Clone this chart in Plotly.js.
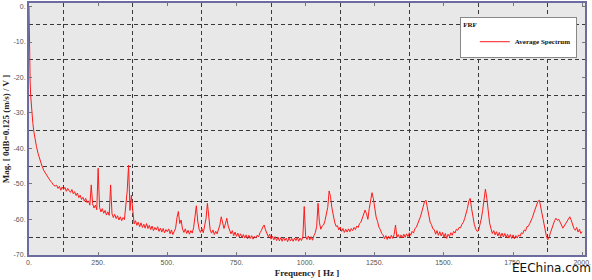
<!DOCTYPE html>
<html>
<head>
<meta charset="utf-8">
<script src="https://cdn.plot.ly/plotly-3.0.1.min.js"></script>
<style>html,body{margin:0;padding:0;background:#fff;}#chart{width:592px;height:280px;}</style>
</head>
<body>
<div id="chart"></div>
<script>
var freqHz = [0,1,2,3,4,6,8,11,14,18,22,27,33,40,47,54,61,68,75,82,89,95,
100,105,110,115,120,125,130,135,140,145,150,155,160,165,170,175,180,185,190,195,
200,205,210,215,220,225,230,235,240,245,250,255,260,265,270,275,280,285,290,295,
300,305,310,315,320,325,330,335,340,345,350,355,360,365,370,375,380,385,390,395,
400,405,410,415,420,425,430,435,440,445,450,455,460,465,470,475,480,485,490,495,
500,505,510,515,520,525,530,535,540,545,550,555,560,565,570,575,580,585,590,595,
600,605,610,615,620,625,630,635,640,645,650,655,660,665,670,675,680,685,690,695,
700,705,710,715,720,725,730,735,740,745,750,755,760,765,770,775,780,785,790,795,
800,805,810,815,820,825,830,835,840,845,850,855,860,865,870,875,880,885,890,895,
900,905,910,915,920,925,930,935,940,945,950,955,960,965,970,975,980,985,990,995,
1000,1005,1010,1015,1020,1025,1030,1035,1040,1045,1050,1055,1060,1065,1070,1075,1080,1085,1090,1095,
1100,1105,1110,1115,1120,1125,1130,1135,1140,1145,1150,1155,1160,1165,1170,1175,1180,1185,1190,1195,
1200,1205,1210,1215,1220,1225,1230,1235,1240,1245,1250,1255,1260,1265,1270,1275,1280,1285,1290,1295,
1300,1305,1310,1315,1320,1325,1330,1335,1340,1345,1350,1355,1360,1365,1370,1375,1380,1385,1390,1395,
1400,1405,1410,1415,1420,1425,1430,1435,1440,1445,1450,1455,1460,1465,1470,1475,1480,1485,1490,1495,
1500,1505,1510,1515,1520,1525,1530,1535,1540,1545,1550,1555,1560,1565,1570,1575,1580,1585,1590,1595,
1600,1605,1610,1615,1620,1625,1630,1635,1640,1645,1650,1655,1660,1665,1670,1675,1680,1685,1690,1695,
1700,1705,1710,1715,1720,1725,1730,1735,1740,1745,1750,1755,1760,1765,1770,1775,1780,1785,1790,1795,
1800,1805,1810,1815,1820,1825,1830,1835,1840,1845,1850,1855,1860,1865,1870,1875,1880,1885,1890,1895,
1900,1905,1910,1915,1920,1925,1930,1935,1940,1945,1950,1955,1960,1965,1970,1975,1980,1985,1990,1995,
2000];
var magDb = [0,-8,-14,-18,-21,-25,-27.5,-30.5,-33,-35.5,-37.5,-39.5,-41.5,-43.5,-45,-46.3,-47.2,-48.3,-48.9,-49.6,-50.4,-50.6,
-50.4,-51.3,-50.7,-51.8,-50.9,-51.6,-51.0,-52.1,-51.3,-51.9,-52.4,-51.6,-52.8,-52.2,-53.3,-52.6,-53.9,-53.2,-54.4,-53.8,
-54.9,-54.1,-55.3,-54.8,-56.0,-50.3,-55.6,-56.8,-56.0,-57.3,-45.6,-56.6,-57.9,-57.0,-58.3,-57.5,-58.8,-57.9,-58.9,-50.3,
-58.4,-59.5,-58.6,-59.8,-59.0,-60.2,-59.3,-60.4,-59.5,-60.1,-56.5,-52.0,-44.7,-57.5,-53.2,-58.0,-61.3,-60.4,-61.7,-60.8,
-62.1,-61.0,-62.3,-61.4,-62.5,-61.2,-62.6,-61.7,-62.9,-61.9,-63.2,-62.3,-63.0,-62.1,-63.4,-62.5,-63.6,-62.6,-63.8,-62.9,
-63.5,-62.7,-64.1,-63.0,-64.3,-63.4,-62.5,-59.5,-57.8,-61.2,-60.2,-62.8,-63.7,-62.7,-64.0,-63.1,-64.2,-63.2,-63.9,-62.4,
-59.5,-56.2,-60.5,-62.8,-63.7,-62.6,-63.8,-62.2,-59.8,-55.5,-60.3,-63.0,-63.9,-63.0,-64.3,-63.4,-64.1,-62.9,-61.6,-59.3,
-61.4,-62.6,-61.3,-59.7,-61.9,-63.3,-64.1,-63.2,-64.6,-63.6,-64.8,-63.9,-65.0,-64.1,-65.2,-64.3,-65.3,-64.4,-65.5,-64.5,
-65.4,-64.6,-65.6,-64.8,-65.3,-64.5,-65.0,-63.8,-63.2,-62.2,-61.6,-63.0,-64.3,-64.9,-64.2,-65.6,-64.8,-65.8,-64.9,-66.0,
-65.0,-66.1,-65.2,-66.2,-65.1,-66.0,-65.3,-66.3,-65.2,-66.1,-65.4,-66.2,-65.3,-66.0,-65.1,-66.2,-65.3,-66.0,-65.0,-56.4,
-64.8,-65.7,-64.7,-65.8,-64.9,-65.9,-64.6,-63.8,-62.0,-55.5,-61.0,-62.8,-61.9,-61.6,-60.4,-58.9,-56.6,-52.0,-53.6,-56.8,
-59.2,-60.8,-62.0,-61.8,-63.0,-62.2,-63.4,-62.6,-63.7,-62.8,-63.6,-62.7,-63.5,-62.6,-63.2,-62.3,-62.9,-61.9,-62.3,-61.2,
-60.8,-59.8,-58.8,-57.4,-58.4,-60.0,-57.0,-54.3,-52.5,-54.2,-57.2,-59.4,-60.6,-62.2,-62.9,-64.0,-64.4,-65.5,-64.6,-65.7,
-64.8,-65.5,-64.5,-65.4,-64.3,-61.6,-65.1,-64.3,-65.3,-64.4,-65.2,-64.2,-65.1,-64.1,-64.9,-63.8,-64.5,-63.4,-63.9,-62.6,
-62.3,-61.4,-60.3,-59.3,-57.9,-56.4,-55.0,-54.6,-56.9,-59.0,-60.8,-61.5,-62.7,-62.9,-64.2,-63.2,-64.5,-63.5,-64.7,-63.7,
-65.1,-64.0,-65.4,-64.2,-64.9,-63.8,-64.5,-63.4,-63.9,-62.8,-63.1,-62.3,-62.4,-61.4,-60.9,-59.8,-58.6,-56.9,-54.9,-54.1,
-57.0,-59.8,-61.5,-62.7,-63.4,-63.2,-61.9,-59.9,-57.5,-54.6,-51.5,-54.0,-58.2,-61.0,-62.6,-64.0,-63.2,-64.4,-63.5,-64.7,
-63.7,-64.9,-63.9,-65.0,-64.0,-65.1,-64.2,-65.3,-64.3,-65.4,-64.4,-65.5,-64.6,-65.3,-64.4,-64.8,-63.8,-64.1,-63.0,-63.3,
-62.1,-62.0,-61.2,-60.4,-59.5,-58.2,-56.9,-55.6,-54.9,-54.6,-56.6,-59.0,-61.4,-63.2,-64.6,-65.8,-65.1,-63.8,-62.5,-61.0,
-60.4,-59.7,-60.3,-60.0,-61.1,-61.6,-62.5,-61.9,-61.0,-60.4,-59.8,-59.3,-60.2,-61.7,-62.6,-63.1,-62.3,-63.6,-62.8,-64.0,
-63.5];

var xTickVals = [0,250,500,750,1000,1250,1500,1750,2000];
var xTickText = ['0.','250.','500.','750.','1000.','1250.','1500.','1750.','2000.'];
var yTickVals = [0,-10,-20,-30,-40,-50,-60,-70];
var yTickText = ['0.','-10.','-20.','-30.','-40.','-50.','-60.','-70.'];

var axisColor = '#6c6ca0';
var tickFont = {family:'Liberation Sans, Arial, sans-serif', size:7, color:'#555'};
var titleFont = {family:'Liberation Serif, Times New Roman, serif', size:9, color:'#222', weight:'bold'};

var trace = {
  x: freqHz, y: magDb, type:'scatter', mode:'lines', name:'Average Spectrum',
  line:{color:'#ff1a1a', width:1}
};

var layout = {
  width:592, height:280,
  margin:{l:29, r:7, t:3, b:25, pad:0},
  paper_bgcolor:'#ffffff', plot_bgcolor:'#e8e8e8',
  showlegend:true,
  legend:{
    x:0.986, xanchor:'right', y:0.944, yanchor:'top',
    bgcolor:'#ffffff', bordercolor:'#888', borderwidth:1,
    font:{family:'Liberation Serif, Times New Roman, serif', size:7, color:'#111', weight:'bold'},
    title:{text:'FRF', side:'top left', font:{family:'Liberation Serif, Times New Roman, serif', size:7, color:'#111', weight:'bold'}},
    itemwidth:30, tracegroupgap:0
  },
  xaxis:{
    range:[0,2010], showgrid:false, zeroline:false,
    tickvals:xTickVals, ticktext:xTickText, tickfont:tickFont,
    ticks:'inside', ticklen:3, tickcolor:'#777', tickwidth:1,
    showline:true, linecolor:axisColor, linewidth:2, mirror:'ticks',
    minor:{tick0:125, dtick:250, showgrid:true, gridcolor:'#3a3a3a', gridwidth:1, griddash:'4px,3px', ticks:''},
    title:{text:'Frequency [ Hz ]', font:titleFont, standoff:4}
  },
  yaxis:{
    range:[-70.07,1.0], showgrid:false, zeroline:false,
    tickvals:yTickVals, ticktext:yTickText, tickfont:tickFont,
    ticks:'inside', ticklen:3, tickcolor:'#777', tickwidth:1,
    showline:true, linecolor:axisColor, linewidth:2, mirror:'ticks',
    minor:{tick0:-5, dtick:10, showgrid:true, gridcolor:'#3a3a3a', gridwidth:1, griddash:'4px,3px', ticks:''},
    title:{text:'Mag. [ 0dB=0.125 (m/s) / V ]', font:titleFont, standoff:2}
  },
  annotations:[{
    xref:'paper', yref:'paper', x:0.94, y:-0.05, xanchor:'center', yanchor:'middle',
    text:'EEChina.com', showarrow:false,
    font:{family:'DejaVu Sans, Verdana, sans-serif', size:12, color:'#111'}
  }]
};

Plotly.newPlot('chart', [trace], layout, {staticPlot:true, displayModeBar:false});
</script>
</body>
</html>
